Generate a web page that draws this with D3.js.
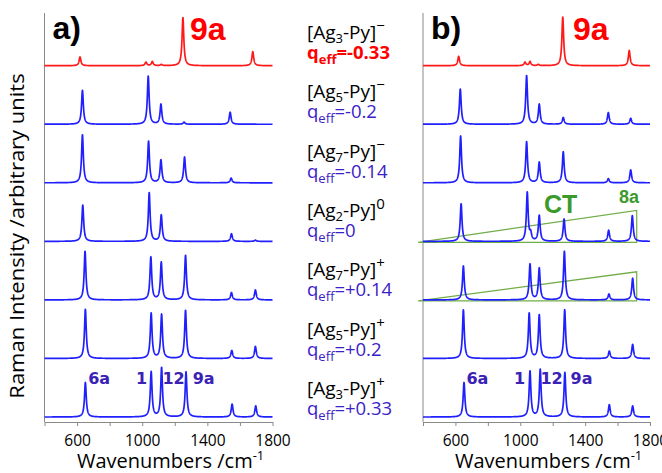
<!DOCTYPE html>
<html><head><meta charset="utf-8">
<script src="https://cdn.jsdelivr.net/npm/d3@7"></script>
<style>body{margin:0;background:#fff;} svg{display:block;font-family:"Open Sans",sans-serif;}</style>
</head><body>
<svg id="c" width="662" height="473"></svg>
<script>
// ---------- data ----------
const wavenumberTicks = [400, 600, 800, 1000, 1200, 1400, 1600, 1800];
const wavenumberLabels = [600, 1000, 1400, 1800];
const clusterSize = [3, 5, 7, 2, 7, 5, 3];
const clusterCharge = ["\u2212", "\u2212", "\u2212", "0", "+", "+", "+"];
const qEff = ["-0.33", "-0.2", "-0.14", "0", "+0.14", "+0.2", "+0.33"];

// panel a) peaks [wavenumber, intensity]
const peaksA_Ag3m = [[618, 15], [1023, 6], [1062, 7], [1117, 2], [1250, 82], [1679, 24]];
const peaksA_Ag5m = [[633, 58], [1037, 82], [1115, 34], [1257, 3.5], [1540, 20.5]];
const peaksA_Ag7m = [[633, 82], [1039, 71], [1115, 39], [1260, 44], [1546, 8]];
const peaksA_Ag2 = [[635, 62], [1043, 83], [1117, 45], [1548, 13], [1695, 2]];
const peaksA_Ag7p = [[649, 83], [1053, 73], [1117, 64], [1266, 76], [1548, 12.5], [1695, 17]];
const peaksA_Ag5p = [[651, 84], [1055, 77], [1119, 75], [1266, 82], [1550, 13.7], [1695, 20.5]];
const peaksA_Ag3p = [[651, 59], [1055, 77], [1119, 84], [1269, 77], [1552, 22], [1697, 19]];

// panel b) peaks [wavenumber, intensity]
const peaksB_Ag3m = [[620, 16], [1029, 6], [1060, 7], [1111, 2], [1262, 83], [1672, 26]];
const peaksB_Ag5m = [[630, 60], [1039, 83], [1117, 34], [1265, 11.5], [1543, 20], [1681, 10]];
const peaksB_Ag7m = [[632, 80], [1039, 70], [1117, 35], [1265, 53], [1543, 7], [1681, 22]];
const peaksB_Ag2 = [[635, 64], [1043, 83], [1064, 12], [1117, 44], [1270, 38], [1545, 19], [1691, 44]];
const peaksB_Ag7p = [[649, 58], [1060, 61], [1117, 54], [1272, 83], [1547, 10], [1693, 37]];
const peaksB_Ag5p = [[649, 83], [1055, 77], [1117, 74], [1274, 83], [1549, 12.5], [1693, 24]];
const peaksB_Ag3p = [[653, 59], [1060, 78], [1123, 81], [1275, 76], [1549, 21], [1693, 19]];

const spectraA = [peaksA_Ag3m, peaksA_Ag5m, peaksA_Ag7m, peaksA_Ag2, peaksA_Ag7p, peaksA_Ag5p, peaksA_Ag3p];
const spectraB = [peaksB_Ag3m, peaksB_Ag5m, peaksB_Ag7m, peaksB_Ag2, peaksB_Ag7p, peaksB_Ag5p, peaksB_Ag3p];
const offsetStep = 100;

// CT triangles (panel b)
const ctSpectra = [3, 4];
const ctStart = 370, ctEnd = 1718;
const ctHeight = [53, 48];

// mode labels on the bottom spectrum
const modeNames = ["6a", "1", "12", "9a"];
const modeLabelWn = [668, 962, 1124, 1310];
const modeLabelLevel = 57;

// ---------- drawing ----------
const svg = d3.select("#c");
const W0 = 400, W1 = 1800;
const y = d3.scaleLinear().domain([-8.5, 690]).range([422, 13]);
const halfWidth = 6.5;
const grid = d3.range(W0, W1 + 0.5, 0.5);

function spectrum(peaks) {
  return grid.map(w => [w, d3.sum(peaks, p => p[1] * halfWidth * halfWidth / ((w - p[0]) ** 2 + halfWidth * halfWidth))]);
}

function panel(x, spectra, letter, opts) {
  const g = svg.append("g");
  g.append("line").attr("x1", x(W0)).attr("x2", x(W0)).attr("y1", y.range()[1]).attr("y2", y.range()[0])
    .attr("stroke", "#8a8a8a").attr("stroke-width", 1);
  const ax = g.append("g").attr("transform", `translate(0,${y(-8.5)})`)
    .call(d3.axisBottom(x).tickValues(wavenumberTicks).tickSize(4).tickSizeOuter(0).tickPadding(9)
      .tickFormat(d => wavenumberLabels.includes(d) ? d : ""));
  ax.select(".domain").attr("stroke", "#8a8a8a");
  ax.selectAll(".tick line").attr("stroke", "#8a8a8a");
  ax.selectAll(".tick text").attr("font-family", "Open Sans").attr("font-size", 15.5).attr("fill", "#000");

  if (opts.ct) {
    ctSpectra.forEach((si, k) => {
      const base = (6 - si) * offsetStep;
      const pts = [[ctStart, base], [ctEnd, base + ctHeight[k]], [ctEnd, base]];
      g.append("path").attr("d", "M" + pts.map(p => [x(p[0]), y(p[1]) + (p[1] === base ? 1 : 0)].join(",")).join("L") + "Z")
        .attr("fill", "none").attr("stroke", "#70ad47").attr("stroke-width", 1.2);
    });
  }

  const line = d3.line().x(d => x(d[0])).y(d => y(d[1]));
  spectra.forEach((pk, i) => {
    const off = (6 - i) * offsetStep;
    const data = spectrum(pk).map(d => [d[0], d[1] + off]);
    g.append("path").attr("d", line(data)).attr("fill", "none")
      .attr("stroke", i === 0 ? "#ff1a1a" : "#2020ff").attr("stroke-width", 1.7).attr("stroke-linejoin", "round");
  });

  g.append("text").attr("x", x(W0) + 8).attr("y", 39).text(letter + ")")
    .attr("font-family", "Liberation Sans, Arial").attr("font-weight", "bold").attr("font-size", 32);
  g.append("text").attr("x", opts.nineA).attr("y", 40).text("9a")
    .attr("font-family", "Liberation Sans, Arial").attr("font-weight", "bold").attr("font-size", 32).attr("fill", "#ff0000");

  modeNames.forEach((m, k) => {
    g.append("text").attr("x", x(modeLabelWn[k])).attr("y", y(modeLabelLevel)).text(m)
      .attr("font-family", "DejaVu Sans").attr("font-weight", "bold").attr("font-size", 16).attr("fill", "#3a22b6");
  });

  const t = g.append("text").attr("x", opts.titleX).attr("y", 468).attr("font-size", 20).attr("font-family", "Open Sans");
  t.append("tspan").text("Wavenumbers /cm");
  t.append("tspan").attr("dy", -8).attr("font-size", 13).text("-1");
}

const xa = d3.scaleLinear().domain([W0, W1]).range([44.5, 272.5]);
const xb = d3.scaleLinear().domain([W0, W1]).range([423, 650]);
panel(xa, spectraA, "a", {nineA: 190, titleX: 77});
panel(xb, spectraB, "b", {nineA: 573, titleX: 455, ct: true});

svg.append("text").attr("x", 544).attr("y", 213).text("CT")
  .attr("font-family", "Liberation Sans, Arial").attr("font-weight", "bold").attr("font-size", 25).attr("fill", "#3c9a2c");
svg.append("text").attr("x", 619).attr("y", 203).text("8a")
  .attr("font-family", "Liberation Sans, Arial").attr("font-weight", "bold").attr("font-size", 18).attr("fill", "#3c9a2c");

svg.append("text").attr("transform", "translate(24,236) rotate(-90) scale(1.1,1)").attr("text-anchor", "middle")
  .attr("font-family", "Open Sans").attr("font-size", 20).text("Raman Intensity /arbitrary units");

clusterSize.forEach((n, i) => {
  const by = 39 + i * 59.3;
  const t1 = svg.append("text").attr("x", 307).attr("y", by).attr("font-size", 19).attr("fill", "#000");
  t1.append("tspan").text("[Ag");
  t1.append("tspan").attr("dy", 4).attr("font-size", 13).text(n);
  t1.append("tspan").attr("dy", -4).text("-Py]");
  t1.append("tspan").attr("dy", -8).attr("font-size", 15).text(clusterCharge[i]);
  const red = i === 0;
  const t2 = svg.append("text").attr("x", 307).attr("y", by + 20).attr("font-size", 18.5)
    .attr("fill", red ? "#ff0000" : "#3a22c8").attr("font-weight", red ? "bold" : "normal");
  t2.append("tspan").text("q");
  t2.append("tspan").attr("dy", 5).attr("font-size", 13).text("eff");
  t2.append("tspan").attr("dy", -5).text("=" + qEff[i]);
});
</script>
</body></html>
